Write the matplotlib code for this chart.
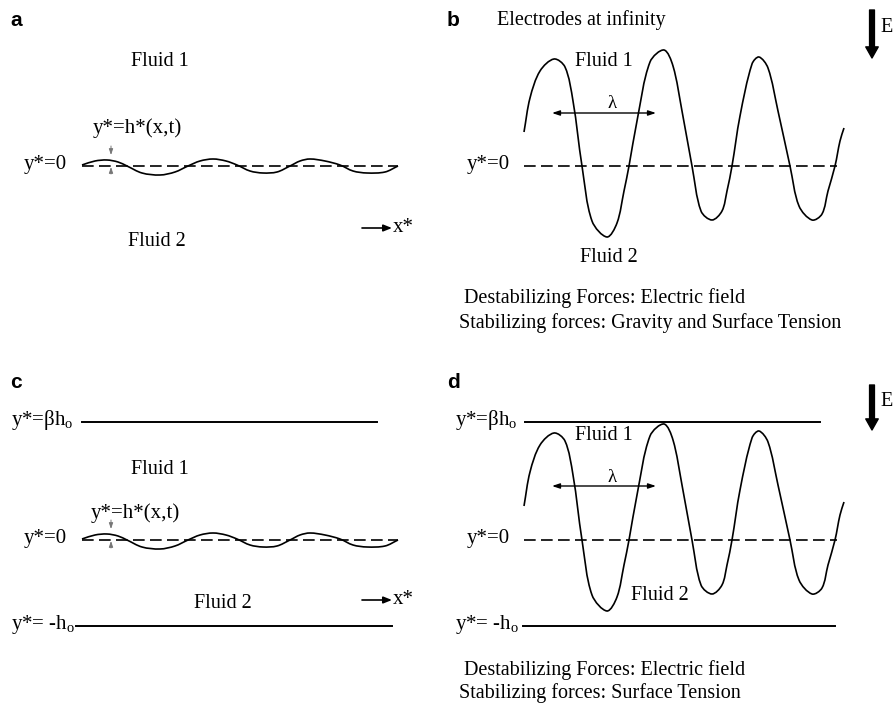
import matplotlib
matplotlib.use("Agg")
import matplotlib.pyplot as plt
from matplotlib.path import Path
from matplotlib.patches import PathPatch
import numpy as np

plt.rcParams["font.family"] = ["Liberation Serif", "DejaVu Serif"]
plt.rcParams["mathtext.default"] = "regular"

# small-amplitude interface (panels a, c): x position and offset from y*=0 line
small_x = [82, 95, 107, 118, 127, 142, 160, 175, 188, 200, 213, 226, 237, 250,
           263, 277, 290, 300, 310, 325, 340, 353, 367, 385, 398]
small_dy = [-1, -5, -6, -4, 0, 7, 9, 6, 0, -5, -7, -5, -1, 5,
            7, 6, 0, -5, -7, -5, -1, 5, 7, 6, 0]

# large-amplitude interface (panels b, d): x position and offset from y*=0 line
big_x = [524, 530, 540, 554, 565, 573, 582, 592, 607, 617, 624, 629, 637,
         650, 664, 673, 682, 692, 701, 712, 722, 727, 732, 740, 752, 759,
         768, 778, 790, 799, 812, 822, 828, 835, 840, 844]
big_dy = [-34, -68, -95, -107, -99, -65, 0, 55, 71, 57, 25, 0, -45,
          -104, -116, -100, -55, 0, 45, 54, 45, 25, 0, -50, -102, -109,
          -98, -55, 0, 40, 54, 48, 25, 0, -25, -38]

fig = plt.figure(figsize=(8.94, 7.04), dpi=100)
ax = fig.add_axes([0, 0, 1, 1])
ax.set_xlim(0, 894)
ax.set_ylim(704, 0)
ax.axis("off")

FS = 14.5
FS_Y = 15


def smooth(ax, xs, ys, lw=1.2):
    # chord-length Catmull-Rom drawn as cubic Bezier segments
    pts = np.column_stack([xs, ys]).astype(float)
    n = len(pts)
    d = np.r_[0, np.cumsum(np.hypot(*np.diff(pts, axis=0).T))]
    tang = np.zeros_like(pts)
    for i in range(n):
        a, b = max(i - 1, 0), min(i + 1, n - 1)
        tang[i] = (pts[b] - pts[a]) / (d[b] - d[a])
    verts = [pts[0]]
    codes = [Path.MOVETO]
    for i in range(n - 1):
        h = d[i + 1] - d[i]
        verts += [pts[i] + tang[i] * h / 3, pts[i + 1] - tang[i + 1] * h / 3, pts[i + 1]]
        codes += [Path.CURVE4] * 3
    ax.add_patch(PathPatch(Path(verts, codes), fill=False, lw=lw, color="black"))


def dashed(ax, x0, x1, y):
    ax.plot([x0, x1], [y, y], color="black", lw=1.2, dashes=(7, 3.2))


def panel_label(ax, x, y, s):
    ax.text(x, y, s, fontsize=15, fontweight="bold", family="Liberation Sans",
            ha="left", va="center")


def small_arrows(ax, x, y0):
    st = "-|>,head_length=0.35,head_width=0.12"
    ax.annotate("", xy=(x, y0 - 11), xytext=(x, y0 - 20),
                arrowprops=dict(arrowstyle=st, color="#777777", lw=0.7,
                                shrinkA=0, shrinkB=0))
    ax.annotate("", xy=(x, y0 + 1), xytext=(x, y0 + 8),
                arrowprops=dict(arrowstyle=st, color="#777777", lw=0.7,
                                shrinkA=0, shrinkB=0))


def x_arrow(ax, x, y):
    ax.annotate("", xy=(x + 30, y), xytext=(x, y),
                arrowprops=dict(arrowstyle="-|>,head_length=0.5,head_width=0.2",
                                color="black", lw=1.2, shrinkA=0, shrinkB=0))
    ax.text(x + 31, y, "x*", fontsize=FS_Y, ha="left", va="center")


def e_arrow(ax, x, y0, y1):
    ax.annotate("", xy=(x, y1), xytext=(x, y0),
                arrowprops=dict(width=3.5, headwidth=9, headlength=8, color="black",
                                shrink=0))
    ax.text(x + 8, y0 + 17, "E", fontsize=FS, ha="left", va="center")


def lam(ax, y):
    ax.annotate("", xy=(656, y), xytext=(552, y),
                arrowprops=dict(arrowstyle="<|-|>,head_length=0.45,head_width=0.15",
                                color="black", lw=1, shrinkA=0, shrinkB=0))
    ax.text(612, y - 9, "λ", fontsize=FS - 1, ha="center", va="center")


# ---------- panel a ----------
panel_label(ax, 10, 20, "a")
ax.text(160, 62, "Fluid 1", fontsize=FS, ha="center", va="center")
ax.text(137, 128, "y*=h*(x,t)", fontsize=FS_Y, ha="center", va="center")
ax.text(67, 164, "y*=0", fontsize=FS_Y, ha="right", va="center")
dashed(ax, 82, 398, 166)
smooth(ax, small_x, [166 + d for d in small_dy])
small_arrows(ax, 111, 166)
x_arrow(ax, 362, 228)
ax.text(157, 242, "Fluid 2", fontsize=FS, ha="center", va="center")

# ---------- panel b ----------
panel_label(ax, 447, 20, "b")
ax.text(497, 20, "Electrodes at infinity", fontsize=FS, ha="left", va="center")
e_arrow(ax, 872, 10, 58)
ax.text(604, 62, "Fluid 1", fontsize=FS, ha="center", va="center")
lam(ax, 113)
ax.text(510, 164, "y*=0", fontsize=FS_Y, ha="right", va="center")
dashed(ax, 524, 837, 166)
smooth(ax, big_x, [166 + d for d in big_dy])
ax.text(609, 257, "Fluid 2", fontsize=FS, ha="center", va="center")
ax.text(464, 298, "Destabilizing Forces: Electric field", fontsize=FS, ha="left", va="center")
ax.text(459, 323, "Stabilizing forces: Gravity and Surface Tension", fontsize=FS,
        ha="left", va="center")

# ---------- panel c ----------
panel_label(ax, 10, 382, "c")
ax.text(11, 420, "y*=βh$_o$", fontsize=FS_Y, ha="left", va="center")
ax.plot([82, 377], [422, 422], color="black", lw=1.4)
ax.text(160, 470, "Fluid 1", fontsize=FS, ha="center", va="center")
ax.text(135, 513, "y*=h*(x,t)", fontsize=FS_Y, ha="center", va="center")
ax.text(67, 538, "y*=0", fontsize=FS_Y, ha="right", va="center")
dashed(ax, 82, 398, 540)
smooth(ax, small_x, [540 + d for d in small_dy])
small_arrows(ax, 111, 540)
ax.text(223, 603, "Fluid 2", fontsize=FS, ha="center", va="center")
x_arrow(ax, 362, 600)
ax.text(11, 624, "y*= -h$_o$", fontsize=FS_Y, ha="left", va="center")
ax.plot([76, 392], [626, 626], color="black", lw=1.4)

# ---------- panel d ----------
panel_label(ax, 447, 382, "d")
e_arrow(ax, 872, 385, 430)
ax.text(455, 420, "y*=βh$_o$", fontsize=FS_Y, ha="left", va="center")
ax.plot([525, 820], [422, 422], color="black", lw=1.4)
ax.text(604, 436, "Fluid 1", fontsize=FS, ha="center", va="center")
lam(ax, 486)
ax.text(510, 538, "y*=0", fontsize=FS_Y, ha="right", va="center")
dashed(ax, 524, 837, 540)
smooth(ax, big_x, [540 + d for d in big_dy])
ax.text(660, 595, "Fluid 2", fontsize=FS, ha="center", va="center")
ax.text(455, 624, "y*= -h$_o$", fontsize=FS_Y, ha="left", va="center")
ax.plot([523, 835], [626, 626], color="black", lw=1.4)
ax.text(464, 670, "Destabilizing Forces: Electric field", fontsize=FS, ha="left", va="center")
ax.text(459, 693, "Stabilizing forces: Surface Tension", fontsize=FS, ha="left", va="center")

fig.savefig("out.png", dpi=100, facecolor="white")
